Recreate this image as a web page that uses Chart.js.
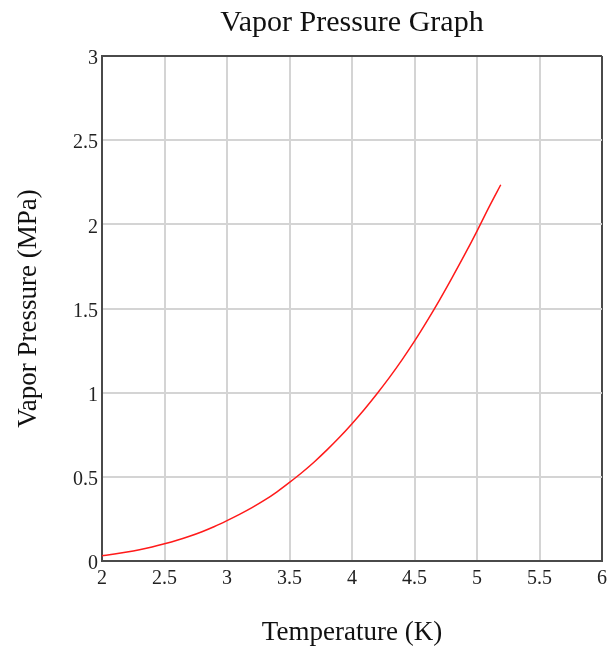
<!DOCTYPE html>
<html>
<head>
<meta charset="utf-8">
<script src="https://cdn.jsdelivr.net/npm/chart.js@4"></script>
<style>
  html, body { margin: 0; padding: 0; background: #fff; }
  #wrap { width: 613px; height: 651px; }
</style>
</head>
<body>
<div id="wrap"><canvas id="vaporChart" width="613" height="651"></canvas></div>
<script>
// temperature, K
const temps = [2.0, 2.1, 2.2, 2.3, 2.4, 2.5, 2.6, 2.7, 2.8, 2.9,
               3.0, 3.1, 3.2, 3.3, 3.4, 3.5, 3.6, 3.7, 3.8, 3.9,
               4.0, 4.1, 4.2, 4.3, 4.4, 4.5, 4.6, 4.7, 4.8, 4.9,
               5.0, 5.1, 5.19];
// vapor pressure, MPa
const pressures = [0.031, 0.041, 0.053, 0.067, 0.083, 0.102, 0.123, 0.147, 0.174, 0.205,
                   0.240, 0.277, 0.317, 0.361, 0.411, 0.467, 0.526, 0.590, 0.660, 0.735,
                   0.816, 0.902, 0.994, 1.091, 1.195, 1.306, 1.425, 1.550, 1.682, 1.818,
                   1.960, 2.108, 2.235];
const xTicks = [2, 2.5, 3, 3.5, 4, 4.5, 5, 5.5, 6];
const yTicks = [0, 0.5, 1, 1.5, 2, 2.5, 3];

const points = temps.map((t, i) => ({ x: t, y: pressures[i] }));
const serif = "'Liberation Serif', 'Times New Roman', serif";
const gridColor = '#d4d4d4';
const edgeColor = '#4a4a4a';

const chart = new Chart(document.getElementById('vaporChart'), {
    type: 'line',
    data: {
        datasets: [{
            data: points,
            borderColor: '#ff1a1a',
            borderWidth: 1.5,
            pointRadius: 0,
            cubicInterpolationMode: 'monotone'
        }]
    },
    options: {
        responsive: false,
        animation: false,
        layout: { padding: { left: 0, right: 10, top: 0, bottom: 0 } },
        plugins: {
            legend: { display: false },
            tooltip: { enabled: false },
            title: {
                display: true,
                text: 'Vapor Pressure Graph',
                fullSize: false,
                color: '#111',
                font: { family: serif, size: 30, weight: 'normal', lineHeight: 1.2 },
                padding: { top: 5, bottom: 15 }
            }
        },
        scales: {
            x: {
                type: 'linear',
                min: 2,
                max: 6,
                afterBuildTicks: s => { s.ticks = xTicks.map(v => ({ value: v })); },
                afterFit: s => { s.height = 90; },
                ticks: {
                    color: '#222',
                    font: { family: serif, size: 20 },
                    padding: 6,
                    maxRotation: 0,
                    callback: v => String(v)
                },
                grid: {
                    color: c => (c.tick && c.tick.value === 6 ? edgeColor : gridColor),
                    lineWidth: 2,
                    drawTicks: false
                },
                border: { color: edgeColor, width: 2 },
                title: {
                    display: true,
                    text: 'Temperature (K)',
                    color: '#111',
                    font: { family: serif, size: 27 },
                    padding: { top: 0, bottom: 2 }
                }
            },
            y: {
                type: 'linear',
                min: 0,
                max: 3,
                afterBuildTicks: s => { s.ticks = yTicks.map(v => ({ value: v })); },
                afterFit: s => { s.width = 102; },
                ticks: {
                    color: '#222',
                    font: { family: serif, size: 20 },
                    padding: 4,
                    labelOffset: 3,
                    callback: v => String(v)
                },
                grid: {
                    color: c => (c.tick && c.tick.value === 3 ? edgeColor : gridColor),
                    lineWidth: 2,
                    drawTicks: false
                },
                border: { color: edgeColor, width: 2 },
                title: {
                    display: true,
                    text: 'Vapor Pressure (MPa)',
                    color: '#111',
                    font: { family: serif, size: 27 },
                    padding: { top: 13, bottom: 0 }
                }
            }
        }
    }
});
</script>
</body>
</html>
